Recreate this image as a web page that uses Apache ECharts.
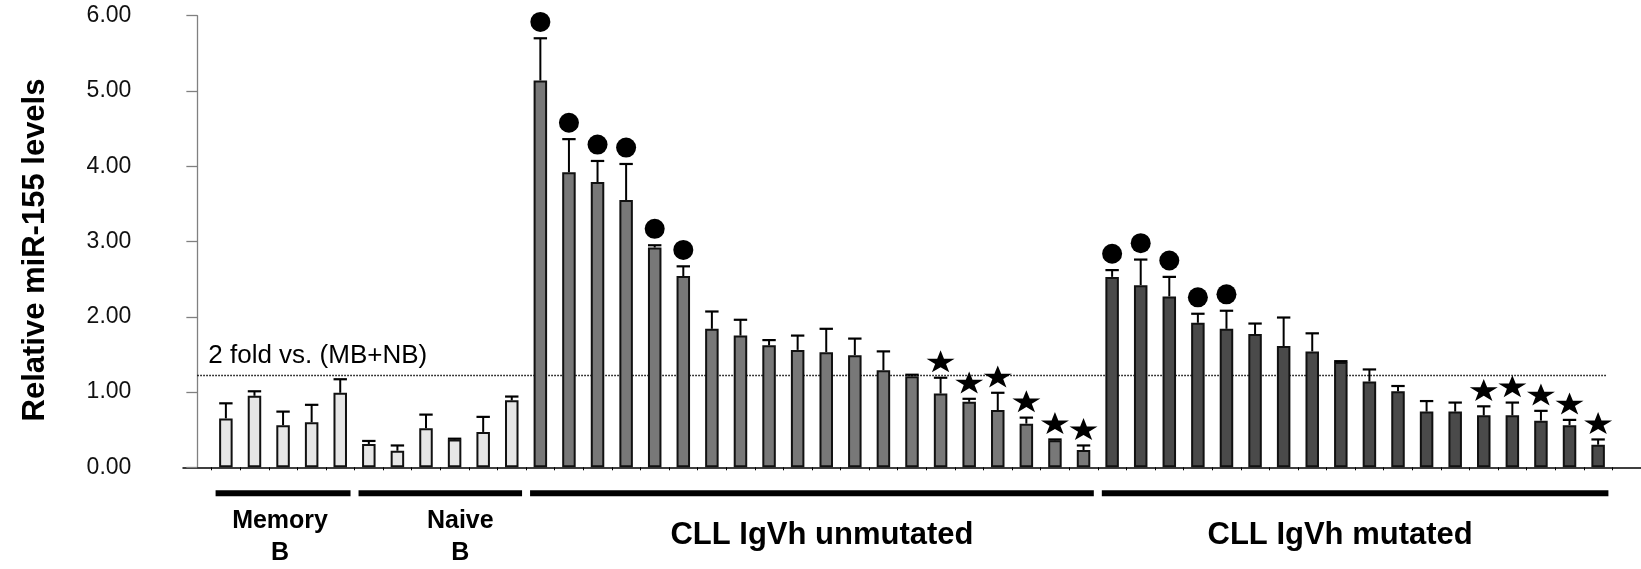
<!DOCTYPE html>
<html><head><meta charset="utf-8">
<script src="https://cdn.jsdelivr.net/npm/echarts@6/dist/echarts.min.js"></script>
<style>html,body{margin:0;padding:0;background:#fff}#c{width:1641px;height:569px}</style>
</head><body><div id="c"></div>
<script>
// ---------- data ----------
const groupNames = ['Memory\nB', 'Naive\nB', 'CLL IgVh unmutated', 'CLL IgVh mutated'];
const groupPrefixes = ['MB', 'NB', 'U-CLL', 'M-CLL'];

const memoryB   = [0.65, 0.95, 0.56, 0.60, 0.99];
const memoryBSd = [0.20, 0.06, 0.18, 0.23, 0.18];

const naiveB    = [0.31, 0.22, 0.52, 0.37, 0.47, 0.89];
const naiveBSd  = [0.04, 0.07, 0.18, 0.01, 0.20, 0.05];

const unmutated   = [5.14, 3.92, 3.79, 3.55, 2.92, 2.54, 1.84, 1.75, 1.62, 1.56,
                     1.53, 1.49, 1.29, 1.21, 0.98, 0.87, 0.76, 0.58, 0.36, 0.23];
const unmutatedSd = [0.56, 0.44, 0.28, 0.48, 0.03, 0.13, 0.23, 0.21, 0.07, 0.19,
                     0.31, 0.22, 0.25, 0.02, 0.21, 0.04, 0.23, 0.08, 0.01, 0.06];
const unmutatedMarks = ['circle','circle','circle','circle','circle','circle','','','','',
                        '','','','','star','star','star','star','star','star'];

const mutated   = [2.53, 2.42, 2.27, 1.92, 1.84, 1.77, 1.61, 1.54, 1.40, 1.14,
                   1.01, 0.74, 0.74, 0.69, 0.69, 0.62, 0.56, 0.30];
const mutatedSd = [0.09, 0.34, 0.26, 0.12, 0.24, 0.14, 0.38, 0.24, 0.01, 0.16,
                   0.07, 0.14, 0.12, 0.12, 0.17, 0.13, 0.07, 0.07];
const mutatedMarks = ['circle','circle','circle','circle','circle','','','','','',
                      '','','','star','star','star','star','star'];

const yTickLabels = ['0.00', '1.00', '2.00', '3.00', '4.00', '5.00', '6.00'];
const threshold = 1.22;
const thresholdLabel = '2 fold vs. (MB+NB)';
const yTitle = 'Relative miR-155 levels';

// ---------- styling ----------
const groupColors = ['#e6e6e6', '#e6e6e6', '#787878', '#4a4a4a'];
const groupLabelSize = [25, 25, 31, 31];
const groupLabelNudge = [-3, 20, 10, -15];
const FONT = '"Liberation Sans", Arial, sans-serif';
const STAR = 'path://M50,0 L61.8,35.1 L98.9,35.1 L69,57.3 L80.3,92.7 L50,71 L19.7,92.7 L31,57.3 L1.1,35.1 L38.2,35.1 Z';

// ---------- build ----------
const groupVals = [memoryB, naiveB, unmutated, mutated];
const groupSds = [memoryBSd, naiveBSd, unmutatedSd, mutatedSd];
const groupMarks = [memoryB.map(() => ''), naiveB.map(() => ''), unmutatedMarks, mutatedMarks];

const categories = [''];
const barData = ['-'];
const errData = [];
const circleData = [];
const starData = [];
const groupData = [];
groupVals.forEach((vals, g) => {
  const start = categories.length;
  vals.forEach((v, j) => {
    const idx = categories.length;
    categories.push(groupPrefixes[g] + ' ' + (j + 1));
    barData.push({ value: v, itemStyle: { color: groupColors[g] } });
    const sd = groupSds[g][j];
    errData.push([idx, v, sd]);
    if (groupMarks[g][j] === 'circle') circleData.push([idx, v + sd]);
    if (groupMarks[g][j] === 'star') starData.push([idx, v + sd]);
  });
  groupData.push([start, categories.length - 1, g]);
});
categories.push('');
barData.push('-');
const lastIdx = categories.length - 2;

const chart = echarts.init(document.getElementById('c'));
chart.setOption({
  animation: false,
  backgroundColor: '#fff',
  grid: { left: 183, right: -5, top: 15.7, bottom: 101.7 },
  xAxis: {
    type: 'category',
    data: categories,
    boundaryGap: true,
    axisLine: { lineStyle: { color: '#000', width: 1.5 } },
    axisTick: { show: true, length: 3, lineStyle: { color: '#000', width: 1 },
                interval: (i) => i !== 0 },
    axisLabel: { show: false },
    splitLine: { show: false }
  },
  yAxis: {
    type: 'value', min: 0, max: 6, interval: 1,
    offset: -14.35,
    name: yTitle,
    nameLocation: 'middle',
    nameGap: 146,
    nameTextStyle: { fontFamily: FONT, fontSize: 31, fontWeight: 'bold', color: '#000', padding: [0, 17, 0, 0] },
    axisLine: { show: true, lineStyle: { color: '#808080', width: 1.3 } },
    axisTick: { show: true, length: 11, lineStyle: { color: '#808080', width: 1.3 } },
    axisLabel: { margin: 66, fontFamily: FONT, fontSize: 23, color: '#111',
                 formatter: (v, i) => yTickLabels[i] },
    splitLine: { show: false }
  },
  series: [
    {
      type: 'custom', z: 1, silent: true,
      data: [[0, threshold]],
      encode: { x: 0, y: 1 },
      renderItem: (params, api) => {
        const p0 = api.coord([0, api.value(1)]);
        const p1 = api.coord([lastIdx, api.value(1)]);
        return { type: 'group', children: [
          { type: 'line', shape: { x1: p0[0], y1: p0[1], x2: p1[0] + 8, y2: p1[1] },
            style: { stroke: '#000', lineWidth: 1.5, lineDash: [1.5, 1.5] } },
          { type: 'text', x: p0[0] + 11, y: p0[1] - 7,
            style: { text: thresholdLabel, font: '26px ' + FONT, fill: '#000',
                     align: 'left', verticalAlign: 'bottom' } }
        ]};
      }
    },
    {
      type: 'bar', z: 2,
      data: barData,
      barWidth: 13.5,
      itemStyle: { borderColor: '#111', borderWidth: 2 }
    },
    {
      type: 'custom', z: 3, silent: true,
      data: errData,
      encode: { x: 0, y: 1 },
      renderItem: (params, api) => {
        const x = api.value(0), v = api.value(1), sd = api.value(2);
        const b = api.coord([x, v]);
        const t = api.coord([x, v + sd]);
        const hw = 6.7;
        return { type: 'group', children: [
          { type: 'line', shape: { x1: b[0], y1: b[1], x2: t[0], y2: t[1] },
            style: { stroke: '#000', lineWidth: 2 } },
          { type: 'line', shape: { x1: t[0] - hw, y1: t[1], x2: t[0] + hw, y2: t[1] },
            style: { stroke: '#000', lineWidth: 2.2 } }
        ]};
      }
    },
    {
      type: 'scatter', z: 4, silent: true,
      data: circleData,
      symbol: 'circle', symbolSize: 20, symbolOffset: [0, -16.4],
      itemStyle: { color: '#000', opacity: 1 }
    },
    {
      type: 'scatter', z: 4, silent: true,
      data: starData,
      symbol: STAR, symbolSize: [28, 22], symbolOffset: [0, -16.4],
      itemStyle: { color: '#000', opacity: 1 }
    },
    {
      type: 'custom', z: 5, silent: true, clip: false,
      data: groupData,
      encode: { x: 0 },
      renderItem: (params, api) => {
        const s = api.value(0), e = api.value(1), g = api.value(2);
        const cw = api.size([1, 0])[0];
        const ps = api.coord([s, 0]);
        const pe = api.coord([e, 0]);
        const left = ps[0] - cw / 2 + 4;
        const right = pe[0] + cw / 2 - 4;
        const y0 = ps[1];
        const fs = groupLabelSize[g];
        const big = fs > 28;
        return { type: 'group', children: [
          { type: 'rect', shape: { x: left, y: y0 + 23, width: right - left, height: 6 },
            style: { fill: '#000' } },
          { type: 'text', x: (ps[0] + pe[0]) / 2 + groupLabelNudge[g], y: big ? y0 + 68 : y0 + 38,
            style: { text: groupNames[g], font: 'bold ' + fs + 'px ' + FONT, fill: '#000',
                     align: 'center', verticalAlign: big ? 'middle' : 'top', lineHeight: 32 } }
        ]};
      }
    }
  ]
});
</script></body></html>
